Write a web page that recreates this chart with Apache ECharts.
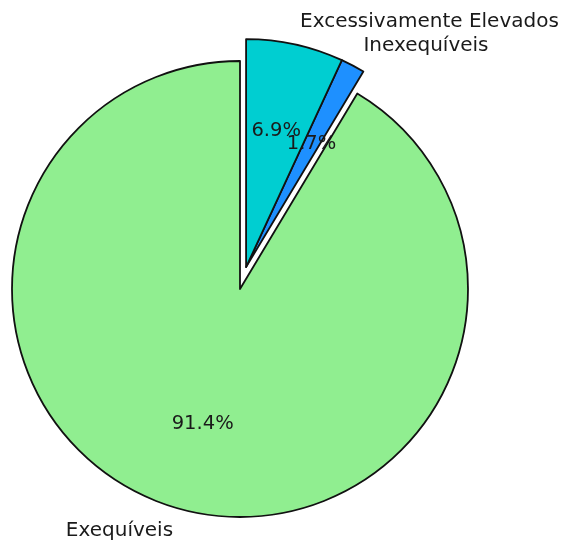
<!DOCTYPE html>
<html>
<head>
<meta charset="utf-8">
<script src="https://cdn.jsdelivr.net/npm/echarts@6/dist/echarts.min.js"></script>
<style>html,body{margin:0;padding:0;background:#fff;}#c{width:567px;height:542px;}</style>
</head>
<body>
<div id="c"></div>
<script>
const categories = ['Exequíveis', 'Inexequíveis', 'Excessivamente Elevados'];
const values = [91.4, 1.7, 6.9];
const colors = ['#90EE90', '#1E90FF', '#00CED1'];
const exploded = [false, true, true];

const R = 228;
const CENTER = [240, 289];
const EXPLODE = 0.1;          // fraction of radius
const START = 90;
const FONT = 'DejaVu Sans';
const TEXT = '#1a1a1a';

// Direction of the exploded group (mid-angle of exploded slices, counterclockwise from START)
const total = values.reduce((a, b) => a + b, 0);
let acc = 0, gStart = null, gEnd = null;
values.forEach((v, i) => {
  const a0 = START + acc / total * 360;
  acc += v;
  const a1 = START + acc / total * 360;
  if (exploded[i]) {
    if (gStart === null) gStart = a0;
    gEnd = a1;
  }
});
const mid = ((gStart + gEnd) / 2) * Math.PI / 180;
const shift = EXPLODE * R;
const CENTER2 = [CENTER[0] + Math.cos(mid) * shift, CENTER[1] - Math.sin(mid) * shift];

const HIDDEN = {color: 'rgba(0,0,0,0)', borderWidth: 0};

function wedgeData(explodedGroup) {
  return categories.map((c, i) => {
    const show = exploded[i] === explodedGroup;
    return {
      name: c, value: values[i],
      itemStyle: show ? {color: colors[i]} : HIDDEN,
      label: {show: show}
    };
  });
}
function pctData(explodedGroup) {
  return categories.map((c, i) => ({
    name: c, value: values[i],
    label: {show: exploded[i] === explodedGroup}
  }));
}

const common = {
  type: 'pie',
  startAngle: START,
  clockwise: false,
  avoidLabelOverlap: false,
  labelLayout: {hideOverlap: false},
  emphasis: {disabled: true, scale: false},
  silent: true
};

function wedgeSeries(center, explodedGroup) {
  return Object.assign({}, common, {
    center: center,
    radius: [0, R],
    itemStyle: {borderColor: '#111', borderWidth: 1.8},
    label: {
      position: 'outside', formatter: '{b}',
      color: TEXT, fontFamily: FONT, fontSize: 20,
      distanceToLabelLine: 0
    },
    labelLine: {show: false, length: R * 0.1, length2: 0},
    data: wedgeData(explodedGroup)
  });
}
function pctSeries(center, explodedGroup) {
  return Object.assign({}, common, {
    center: center,
    radius: [0, R * 1.2],
    itemStyle: HIDDEN,
    label: {
      position: 'inside',
      formatter: p => p.value.toFixed(1) + '%',
      color: TEXT, fontFamily: FONT, fontSize: 19.5
    },
    labelLine: {show: false},
    data: pctData(explodedGroup)
  });
}

const chart = echarts.init(document.getElementById('c'), null, {renderer: 'canvas'});
chart.setOption({
  animation: false,
  series: [
    wedgeSeries(CENTER, false),
    wedgeSeries(CENTER2, true),
    pctSeries(CENTER, false),
    pctSeries(CENTER2, true)
  ]
});
</script>
</body>
</html>
